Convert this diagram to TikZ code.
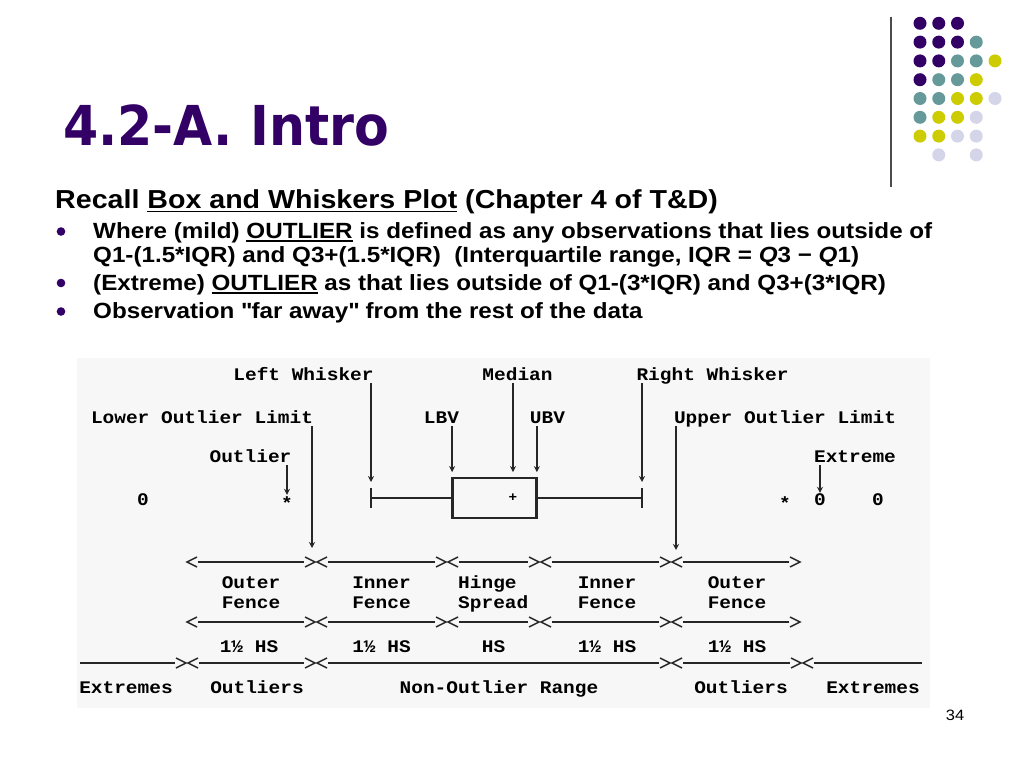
\documentclass[tikz,border=0pt]{standalone}
\usepackage{fontspec}
\setmainfont{Liberation Sans}[FakeStretch=1.1]
\newfontfamily\titlefont{DejaVu Sans}[FakeStretch=0.92]
\newfontfamily\diagfont{Liberation Mono}[FakeStretch=1.1]
\usepackage{tikz}
\usetikzlibrary{arrows.meta,calc}
\definecolor{titlepurple}{HTML}{330066}
\definecolor{dotteal}{HTML}{669999}
\definecolor{dotyellow}{HTML}{CCCC00}
\definecolor{dotlilac}{HTML}{D5D5EA}
\definecolor{diagbg}{HTML}{F7F7F7}
\tikzset{
    lbl/.style = {font=\diagfont\bfseries\fontsize{17.7}{18}\selectfont, inner sep=0pt, anchor=base, text height=12pt, text depth=3pt},
    ptr/.style = {line width=1.3pt, black!85, -{Stealth[length=6pt, width=6pt]}},
    fence/.style = {line width=1.5pt, black!85},
    whisk/.style = {line width=1.5pt, black!85},
    bar/.style = {line width=2.6pt, black!85},
    boxplot/.style = {draw=black!85, line width=1.8pt, rectangle, inner sep=0pt, minimum width=83pt, minimum height=40pt},
    bodytext/.style = {anchor=base west, inner sep=0pt, font=\bfseries\fontsize{22}{24}\selectfont},
}
\newcommand{\ulined}[1]{\setbox0=\hbox{#1}\rlap{\rule[-3.5pt]{\wd0}{1.5pt}}\box0\relax}
\newcommand{\lchev}[1]{\draw[fence] ($(#1)+(11,-5)$) -- ($(#1)+(1,0)$) -- ($(#1)+(11,5)$);}
\newcommand{\rchev}[1]{\draw[fence] ($(#1)+(-11,-5)$) -- ($(#1)+(-1,0)$) -- ($(#1)+(-11,5)$);}

\begin{document}
\begin{tikzpicture}[x=1pt, y=-1pt]
\useasboundingbox (0,0) rectangle (1024,768);
\fill[white] (0,0) rectangle (1024,768);

% corner decoration
\draw[line width=1.5pt, black!70] (891,17) -- (891,187);
\foreach \c/\r in {0/0,1/0,2/0,0/1,1/1,2/1,0/2,1/2,0/3}
    \fill[titlepurple] (920+18.75*\c, 23.3+18.8*\r) circle[radius=6.5pt];
\foreach \c/\r in {3/1,2/2,3/2,1/3,2/3,0/4,1/4,0/5}
    \fill[dotteal] (920+18.75*\c, 23.3+18.8*\r) circle[radius=6.5pt];
\foreach \c/\r in {4/2,3/3,2/4,3/4,1/5,2/5,0/6,1/6}
    \fill[dotyellow] (920+18.75*\c, 23.3+18.8*\r) circle[radius=6.5pt];
\foreach \c/\r in {4/4,3/5,2/6,3/6,1/7,3/7}
    \fill[dotlilac] (920+18.75*\c, 23.3+18.8*\r) circle[radius=6.5pt];

% title and text
\node[anchor=base west, inner sep=0pt, text=titlepurple, font=\titlefont\bfseries\fontsize{55}{60}\selectfont] (title) at (63,145) {4.2-A. Intro};
\node[bodytext, font=\bfseries\fontsize{26}{28}\selectfont] (recall) at (55,208.6) {Recall \ulined{Box and Whiskers Plot} (Chapter 4 of T\&D)};
\foreach \y in {231.5,283,311.5}
    \fill[titlepurple] (61,\y) circle[radius=4.3pt];
\node[bodytext] (item1) at (93,238) {Where (mild) \ulined{OUTLIER} is defined as any observations that lies outside of};
\node[bodytext] (item1b) at (93,262) {Q1-(1.5*IQR) and Q3+(1.5*IQR)\ \ (Interquartile range, IQR = \textit{Q}3 − \textit{Q}1)};
\node[bodytext] (item2) at (93,290) {(Extreme) \ulined{OUTLIER} as that lies outside of Q1-(3*IQR) and Q3+(3*IQR)};
\node[bodytext] (item3) at (93,318) {Observation \textquotedbl far away\textquotedbl{} from the rest of the data};
\node[anchor=base, inner sep=0pt, font=\fontsize{15}{16}\selectfont] (pgnum) at (955,720) {34};

% box and whiskers diagram
\fill[diagbg] (77,358) rectangle (930,708);
\node[lbl] (lwlab) at (303.5,380) {Left Whisker};
\node[lbl] (medlab) at (517.5,380) {Median};
\node[lbl] (rwlab) at (712.5,380) {Right Whisker};
\node[lbl] (lolab) at (202,423) {Lower Outlier Limit};
\node[lbl] (lbvlab) at (441.5,423) {LBV};
\node[lbl] (ubvlab) at (547.5,423) {UBV};
\node[lbl] (uolab) at (785,423) {Upper Outlier Limit};
\node[lbl] (outlab) at (250.5,462) {Outlier};
\node[lbl] (extlab) at (855,462) {Extreme};
\node[lbl] (lzero) at (143,505) {0};
\node[lbl] (lstar) at (287,509) {*};
\node[lbl] (rstar) at (785,509) {*};
\node[lbl] (ext0) at (820,505) {0};
\node[lbl] (rzero) at (878,505) {0};

\node[boxplot] (box) at (494.5,498) {};
\node[inner sep=0pt, font=\diagfont\bfseries\fontsize{13}{13}\selectfont] (med) at (513,498) {+};
\coordinate (lwend) at (371,498);
\coordinate (rwend) at (642,498);
\draw[whisk] (lwend) -- (box.west);
\draw[whisk] (box.east) -- (rwend);
\draw[bar] ($(lwend)+(0,-10)$) -- ($(lwend)+(0,10)$);
\draw[bar] ($(rwend)+(0,-10)$) -- ($(rwend)+(0,10)$);
\draw[bar] (box.north west) -- (box.south west);
\draw[bar] (box.north east) -- (box.south east);

\coordinate (lolim) at (312,548);
\coordinate (uolim) at (676,550);
\draw[ptr] (lwend |- lwlab.south) -- ($(lwend)+(0,-16)$);
\draw[ptr] (rwend |- rwlab.south) -- ($(rwend)+(0,-16)$);
\draw[ptr] (box.north west |- lbvlab.south) -- ($(box.north west)+(0,-5)$);
\draw[ptr] (med |- medlab.south) -- ($(med |- box.north)+(0,-5)$);
\draw[ptr] (box.north east |- ubvlab.south) -- ($(box.north east)+(0,-5)$);
\draw[ptr, shorten >=2pt] (lstar |- outlab.south) -- (lstar.north);
\draw[ptr] (ext0 |- extlab.south) -- (ext0.north);
\draw[ptr] (lolim |- lolab.south) -- (lolim);
\draw[ptr] (uolim |- uolab.south) -- (uolim);

% fence rows
\foreach \x [count=\i from 0] in {186,316,447,540,671,801} {
    \coordinate (a\i) at (\x,562);
    \coordinate (b\i) at (\x,622);
}
\foreach \x [count=\i from 0] in {80,187,316,671,802,922}
    \coordinate (c\i) at (\x,663);
\foreach \r in {a,b} {
    \foreach \i/\j in {0/1,1/2,2/3,3/4,4/5} {
        \lchev{\r\i}
        \draw[fence] ($(\r\i)+(12,0)$) -- ($(\r\j)+(-12,0)$);
        \rchev{\r\j}
    }
}
\draw[fence] (c0) -- ($(c1)+(-12,0)$);
\rchev{c1}
\foreach \i/\j in {1/2,2/3,3/4} {
    \lchev{c\i}
    \draw[fence] ($(c\i)+(12,0)$) -- ($(c\j)+(-12,0)$);
    \rchev{c\j}
}
\lchev{c4}
\draw[fence] ($(c4)+(12,0)$) -- (c5);

\foreach \x/\top/\bot [count=\i] in {251/Outer/Fence, 381.5/Inner/Fence, 607/Inner/Fence, 737/Outer/Fence} {
    \node[lbl] (fa\i) at (\x,588) {\top};
    \node[lbl] (fb\i) at (\x,608) {\bot};
}
\node[lbl, anchor=base west] (hinge) at (458,588) {Hinge};
\node[lbl, anchor=base west] (spread) at (458,608) {Spread};
\foreach \x/\t [count=\i] in {249/1½ HS, 381.5/1½ HS, 493.5/HS, 607/1½ HS, 737/1½ HS}
    \node[lbl] (hs\i) at (\x,652) {\t};
\foreach \x/\t [count=\i] in {126/Extremes, 257/Outliers, 499/Non-Outlier Range, 741/Outliers, 873/Extremes}
    \node[lbl] (rng\i) at (\x,693) {\t};
\end{tikzpicture}
\end{document}
